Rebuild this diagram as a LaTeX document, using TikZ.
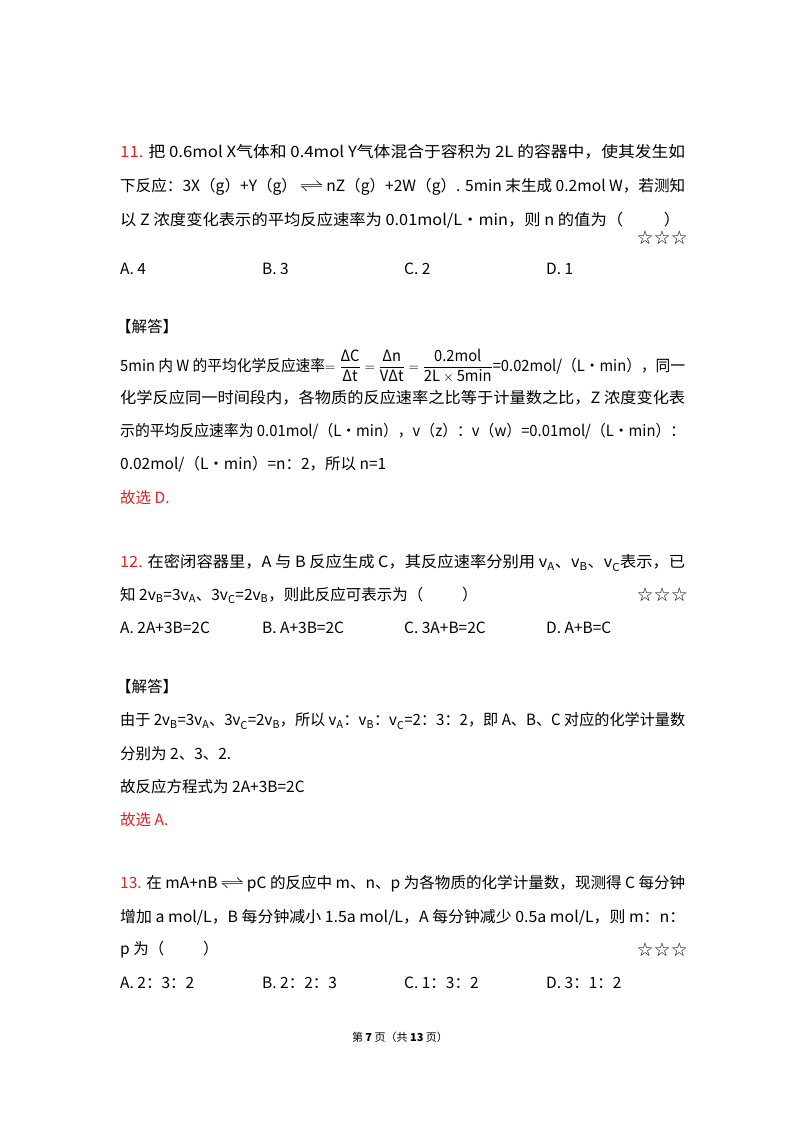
\documentclass[tikz,border=0pt]{standalone}
\usepackage{amsmath}
\usepackage{graphicx}
\usepackage{fontspec}
\setmainfont{Noto Sans CJK SC}
\newfontfamily\symf{DejaVu Sans}
\definecolor{qred}{RGB}{225,35,35}
\newcommand\fl[1]{\resizebox{565pt}{\height}{#1}}
\begin{document}
\begin{tikzpicture}[x=1pt,y=-1pt,
  ln/.style={anchor=west,inner sep=0pt,font=\fontsize{15.5}{18}\selectfont},
  st/.style={anchor=east,inner sep=0pt,font=\fontsize{19}{20}\symf}]
\useasboundingbox (0,0) rectangle (800,1132);
\fill[white] (0,0) rectangle (800,1132);
\newcommand\eqarr{\,\scalebox{1.7}[1.2]{$\rightleftharpoons$}\,}
\node[ln] (a1) at (120,152) {\fl{\textcolor{qred}{11.} 把 0.6mol X气体和 0.4mol Y气体混合于容积为 2L 的容器中，使其发生如}};
\node[ln] (a2) at (120,187) {\fl{下反应：3X（g）+Y（g）\eqarr nZ（g）+2W（g）. 5min 末生成 0.2mol W，若测知}};
\node[ln] (a3) at (120,220) {\resizebox{560pt}{\height}{以 Z 浓度变化表示的平均反应速率为 0.01mol/L•min，则 n 的值为（\hspace{2.5em}）}};
\node[st] (s1) at (688,238) {☆☆☆};
\node[ln] (a4) at (120,269) {A. 4};
\node[ln] (a5) at (262,269) {B. 3};
\node[ln] (a6) at (404,269) {C. 2};
\node[ln] (a7) at (546,269) {D. 1};
\node[ln] (j1) at (116,327) {【解答】};
\node[ln] (j2) at (120,366) {\fl{5min 内 W 的平均化学反应速率$=\dfrac{\text{ΔC}}{\text{Δt}}=\dfrac{\text{Δn}}{\text{VΔt}}=\dfrac{\text{0.2mol}}{\text{2L}\times\text{5min}}$=0.02mol/（L•min），同一}};
\node[ln] (j3) at (120,398) {\fl{化学反应同一时间段内，各物质的反应速率之比等于计量数之比，Z 浓度变化表}};
\node[ln] (j4) at (120,431) {\fl{示的平均反应速率为 0.01mol/（L•min），v（z）：v（w）=0.01mol/（L•min）：}};
\node[ln] (j5) at (120,464) {0.02mol/（L•min）=n：2，所以 n=1};
\node[ln,text=qred] (j6) at (120,498) {故选 D.};
\node[ln] (b1) at (120,563) {\fl{\textcolor{qred}{12.} 在密闭容器里，A 与 B 反应生成 C，其反应速率分别用 v\textsubscript{A}、v\textsubscript{B}、v\textsubscript{C}表示，已}};
\node[ln] (b2) at (120,595) {知 2v\textsubscript{B}=3v\textsubscript{A}、3v\textsubscript{C}=2v\textsubscript{B}，则此反应可表示为（\hspace{2.5em}）};
\node[st] (s2) at (688,595) {☆☆☆};
\node[ln] (b3) at (120,628) {A. 2A+3B=2C};
\node[ln] (b4) at (262,628) {B. A+3B=2C};
\node[ln] (b5) at (404,628) {C. 3A+B=2C};
\node[ln] (b6) at (546,628) {D. A+B=C};
\node[ln] (k1) at (116,687) {【解答】};
\node[ln] (k2) at (120,721) {\fl{由于 2v\textsubscript{B}=3v\textsubscript{A}、3v\textsubscript{C}=2v\textsubscript{B}，所以 v\textsubscript{A}：v\textsubscript{B}：v\textsubscript{C}=2：3：2，即 A、B、C 对应的化学计量数}};
\node[ln] (k3) at (120,754) {分别为 2、3、2.};
\node[ln] (k4) at (120,787) {故反应方程式为 2A+3B=2C};
\node[ln,text=qred] (k5) at (120,820) {故选 A.};
\node[ln] (c1) at (120,884) {\fl{\textcolor{qred}{13.} 在 mA+nB\eqarr pC 的反应中 m、n、p 为各物质的化学计量数，现测得 C 每分钟}};
\node[ln] (c2) at (120,917) {\fl{增加 a mol/L，B 每分钟减小 1.5a mol/L，A 每分钟减少 0.5a mol/L，则 m：n：}};
\node[ln] (c3) at (120,950) {p 为（\hspace{2.5em}）};
\node[st] (s3) at (688,950) {☆☆☆};
\node[ln] (c4) at (120,983) {A. 2：3：2};
\node[ln] (c5) at (262,983) {B. 2：2：3};
\node[ln] (c6) at (404,983) {C. 1：3：2};
\node[ln] (c7) at (546,983) {D. 3：1：2};
\node[inner sep=0pt,font=\fontsize{11}{13}\selectfont] (ft) at (400,1037) {第 \textbf{7} 页（共 \textbf{13} 页）};
\end{tikzpicture}
\end{document}
